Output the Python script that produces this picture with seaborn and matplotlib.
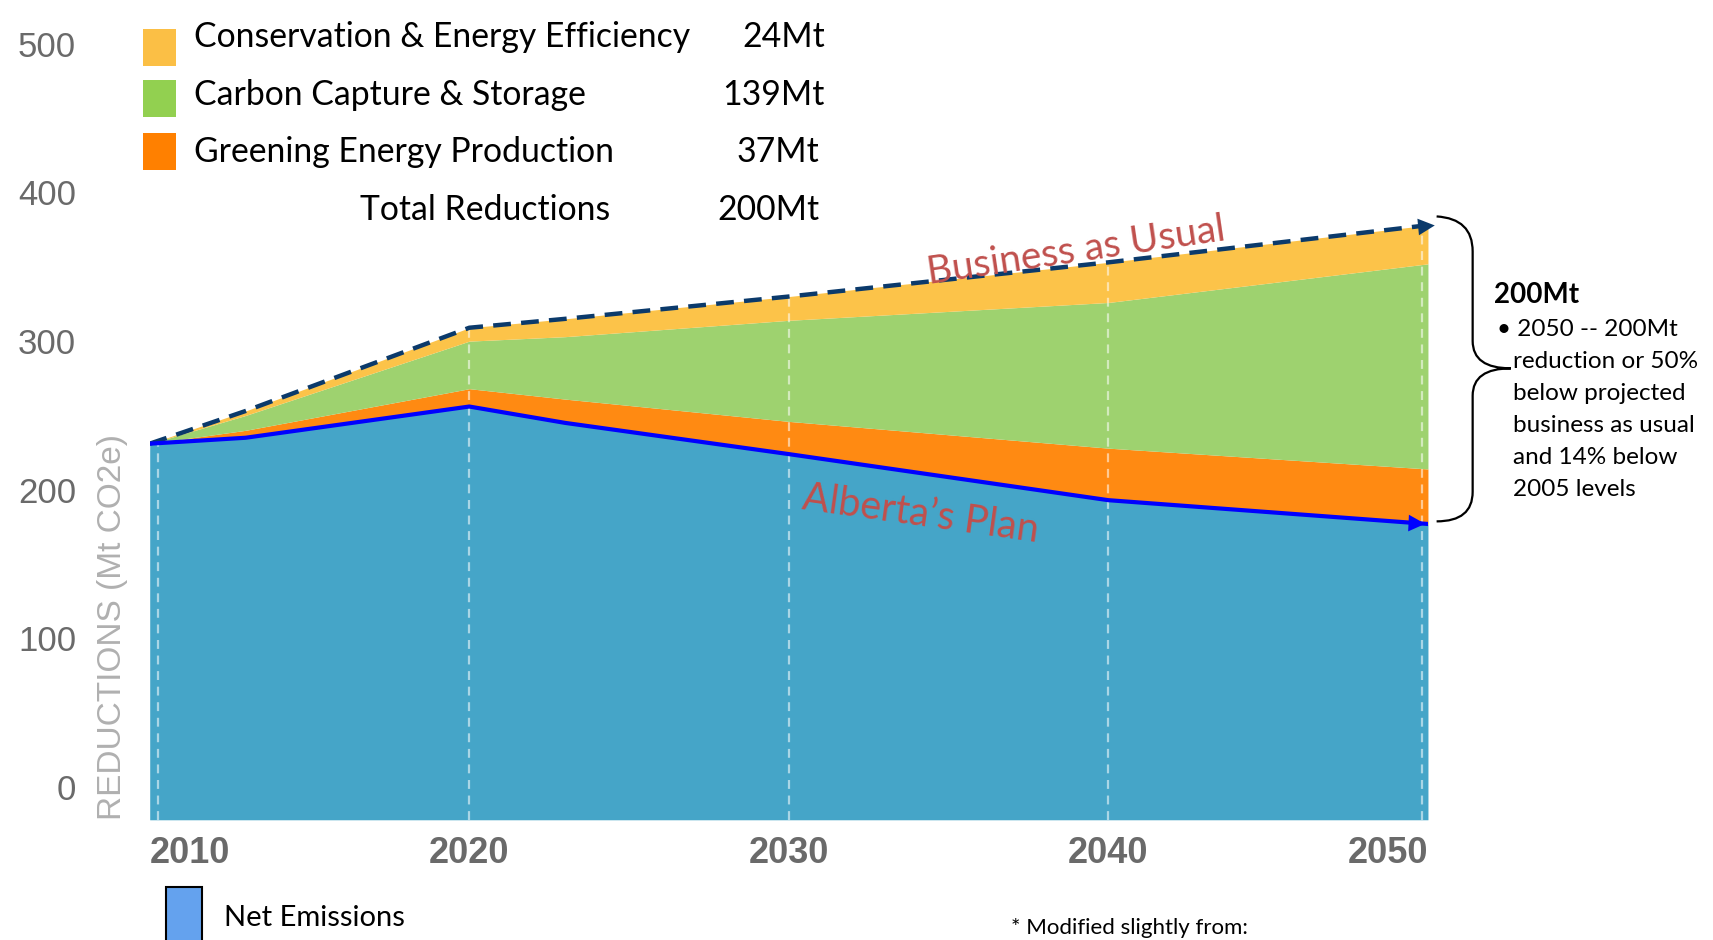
import numpy as np
import matplotlib
matplotlib.use('Agg')
import matplotlib.pyplot as plt
import seaborn as sns
from matplotlib.patches import Rectangle, PathPatch
from matplotlib.path import Path

# data (Mt CO2e)
years = [2010, 2013, 2020, 2023, 2030, 2040, 2050]
net_emissions = [231, 235, 256, 245, 224, 193, 177]
greening = [0, 5, 12, 16, 22, 35, 37]
carbon_capture = [0, 10, 32, 42, 68, 98, 138]
conservation = [0, 3, 9, 12, 16, 27, 26]

wedge_names = ['Conservation & Energy Efficiency', 'Carbon Capture & Storage',
               'Greening Energy Production']
wedge_totals = ['24Mt', '139Mt', '37Mt']
total_reductions = '200Mt'
x_ticks = [2010, 2020, 2030, 2040, 2050]
y_ticks = [0, 100, 200, 300, 400, 500]

sns.set_theme(style='white')
plt.rcParams['font.family'] = ['Lato', 'DejaVu Sans']

fig = plt.figure(figsize=(17.13, 9.40), dpi=100)
ax = fig.add_axes([0.0874, 0.1279, 0.7462, 0.865])

y_floor = -22
x = np.array(years)
lvl0 = np.array(net_emissions)
lvl1 = lvl0 + np.array(greening)
lvl2 = lvl1 + np.array(carbon_capture)
lvl3 = lvl2 + np.array(conservation)

ax.fill_between(x, y_floor, lvl0, color='#45A5C8', lw=0)
ax.fill_between(x, lvl0, lvl1, color='#FF8A12', lw=0)
ax.fill_between(x, lvl1, lvl2, color='#9ED26F', lw=0)
ax.fill_between(x, lvl2, lvl3, color='#FCC349', lw=0)

# white dashed year lines, the outer ones sit just inside the area
for yr, nudge in zip(x_ticks, [0.25, 0, 0, 0, -0.2]):
    ax.plot([yr + nudge, yr + nudge], [y_floor, np.interp(yr + nudge, x, lvl3)],
            color='white', alpha=0.55, lw=1.6, ls=(0, (4, 3)))

sns.lineplot(x=x, y=lvl3, ax=ax, color='#0B3A6B', lw=3.2, linestyle=(0, (4, 2.3)))
sns.lineplot(x=x, y=lvl0, ax=ax, color='#0000FF', lw=3)
ax.annotate('', xy=(x[-1] + 0.3, lvl3[-1]), xytext=(x[-1] - 1.0, lvl3[-1] - 2.6),
            arrowprops=dict(arrowstyle='-|>', color='#0B3A6B', lw=0, mutation_scale=30),
            annotation_clip=False)
ax.annotate('', xy=(x[-1], lvl0[-1]), xytext=(x[-1] - 1.2, lvl0[-1] + 1.2),
            arrowprops=dict(arrowstyle='-|>', color='#0000FF', lw=0, mutation_scale=30))

ax.set_xlim(2010, 2050)
ax.set_ylim(y_floor, 525)
ax.set_xticks(x_ticks)
ax.set_xticklabels([str(t) for t in x_ticks], fontsize=26, fontweight='bold',
                   color='#6A6A6A', family=['Liberation Sans'])
labels = ax.get_xticklabels()
labels[0].set_ha('left')
labels[-1].set_ha('right')
ax.set_yticks(y_ticks)
ax.set_yticklabels([str(t) for t in y_ticks], fontsize=25, color='#6A6A6A',
                   family=['Liberation Sans'])
ax.tick_params(axis='x', length=0, pad=12)
ax.tick_params(axis='y', length=0, pad=53)
ax.set_xlabel('')
ax.set_ylabel('')
sns.despine(ax=ax, left=True, bottom=True)

fig.text(0.0657, 0.3326, 'REDUCTIONS (Mt CO2e)', rotation=90, ha='center', va='center',
         fontsize=24, color='#B0B0B0', family=['Liberation Sans'])

# series labels
ax.text(0.628, 0.733, 'Business as Usual', transform=fig.transFigure, rotation=8.4,
        ha='center', va='center', fontsize=28, color='#C0504D')
ax.text(0.5376, 0.4535, 'Alberta\u2019s Plan', transform=fig.transFigure, rotation=-8,
        ha='center', va='center', fontsize=28.5, color='#C0504D')

# top legend
patch_cols = ['#FBBF45', '#92D050', '#FF8000']
patch_y = [0.930, 0.876, 0.819]
text_y = [0.961, 0.899, 0.838]
val_x = [0.4815, 0.4815, 0.4783]
for name, val, pc, py, ty, vx in zip(wedge_names, wedge_totals, patch_cols, patch_y, text_y, val_x):
    fig.patches.append(Rectangle((0.0835, py), 0.0191, 0.039, transform=fig.transFigure,
                                 facecolor=pc, edgecolor='none'))
    fig.text(0.1135, ty, name, ha='left', va='center', fontsize=24.3, color='black')
    fig.text(vx, ty, val, ha='right', va='center', fontsize=24.3, color='black')
fig.text(0.356, 0.777, 'Total Reductions', ha='right', va='center', fontsize=24.3, color='black')
fig.text(0.4783, 0.777, total_reductions, ha='right', va='center', fontsize=24.3, color='black')

# bottom legend
fig.patches.append(Rectangle((0.097, -0.01), 0.021, 0.066, transform=fig.transFigure,
                             facecolor='#64A2EE', edgecolor='black', lw=1.5))
fig.text(0.1307, 0.0233, 'Net Emissions', ha='left', va='center', fontsize=21, color='black')
fig.text(0.590, 0.0128, '* Modified slightly from:', ha='left', va='center', fontsize=16,
         color='black')

# curly brace on the right
def f(px, py):
    return (px / 1568, 1 - py / 860)

verts = [f(1315, 198), f(1348, 200), f(1348, 230), f(1348, 312), f(1348, 337), f(1383, 337),
         f(1348, 337), f(1348, 362), f(1348, 450), f(1348, 477), f(1315, 477)]
codes = [Path.MOVETO, Path.CURVE3, Path.CURVE3, Path.LINETO, Path.CURVE3, Path.CURVE3,
         Path.CURVE3, Path.CURVE3, Path.LINETO, Path.CURVE3, Path.CURVE3]
fig.patches.append(PathPatch(Path(verts, codes), transform=fig.transFigure, fill=False,
                             lw=1.6, edgecolor='black'))

fig.text(0.8724, 0.686, '200Mt', ha='left', va='center', fontsize=20, fontweight='bold',
         color='black')
fig.text(0.8737, 0.649, '\u2022 2050 -- 200Mt', ha='left', va='center', fontsize=17.5,
         color='black')
note_lines = ['reduction or 50%', 'below projected', 'business as usual',
              'and 14% below', '2005 levels']
for i, line in enumerate(note_lines):
    fig.text(0.8833, 0.6151 - i * 0.0340, line, ha='left', va='center', fontsize=17.5,
             color='black')

fig.savefig('out.png', dpi=100)
